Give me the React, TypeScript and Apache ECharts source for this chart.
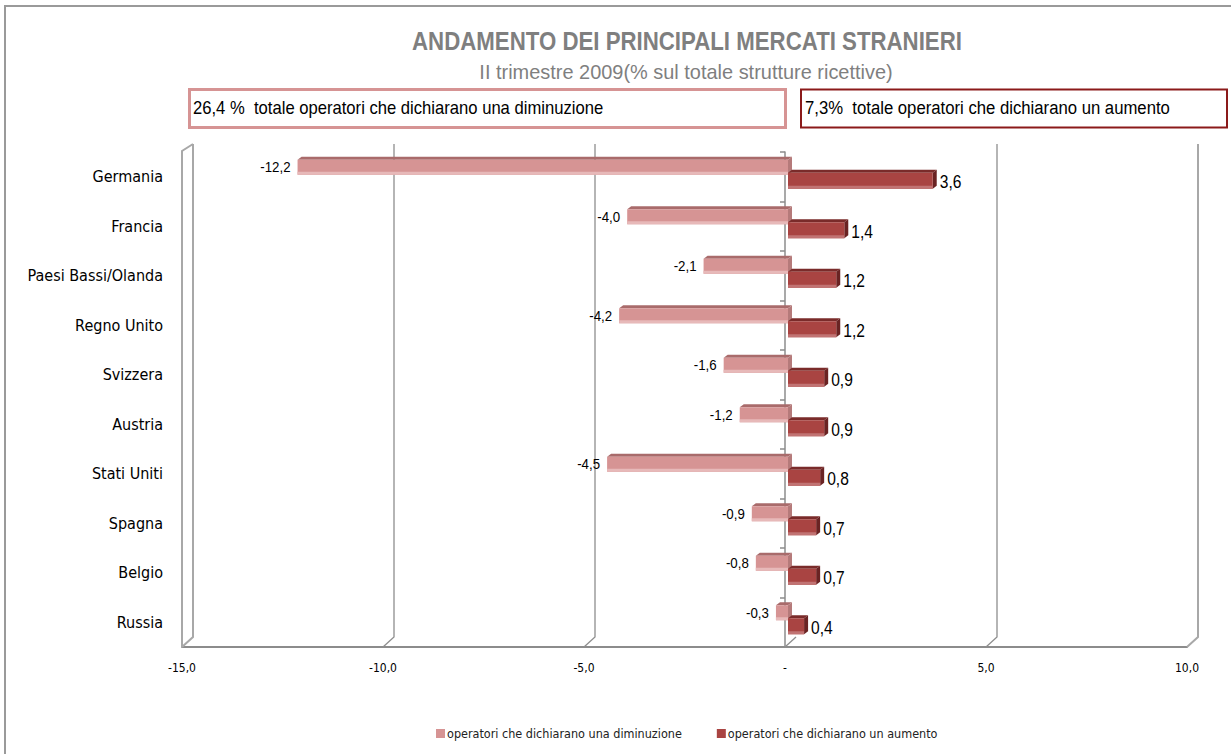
import React, { useEffect, useRef } from "react";
import * as echarts from "echarts";

const categories = [
  "Germania",
  "Francia",
  "Paesi Bassi/Olanda",
  "Regno Unito",
  "Svizzera",
  "Austria",
  "Stati Uniti",
  "Spagna",
  "Belgio",
  "Russia",
];
const decrease = [-12.2, -4.0, -2.1, -4.2, -1.6, -1.2, -4.5, -0.9, -0.8, -0.3];
const increase = [3.6, 1.4, 1.2, 1.2, 0.9, 0.9, 0.8, 0.7, 0.7, 0.4];
const xTicks = [-15, -10, -5, 0, 5, 10];
const seriesNames = [
  "operatori che dichiarano una diminuzione",
  "operatori che dichiarano un aumento",
];
const titleText = "ANDAMENTO DEI PRINCIPALI MERCATI STRANIERI";
const subtitleText = "II trimestre 2009(% sul totale strutture ricettive)";
const boxTexts = [
  "26,4 %  totale operatori che dichiarano una diminuzione",
  "7,3%  totale operatori che dichiarano un aumento",
];

const NARROW = "'Liberation Sans Narrow','Arial Narrow','DejaVu Sans Condensed',sans-serif";
const SANS = "'Liberation Sans',Arial,sans-serif";

const fmt = (v: number) => v.toFixed(1).replace(".", ",");

const COLORS = {
  dec: { front: "#D69494", top: "#A96B6B", side: "#B57A7A", low: "#E7B9B9", legend: "#D69494" },
  inc: { front: "#A94442", top: "#7A2B2A", side: "#6A2323", low: "#C17373", legend: "#A94442" },
};

function makeBarRenderer(kind: "dec" | "inc") {
  return (params: any, api: any) => {
    const idx = api.value(0);
    const v = api.value(1);
    const shift = 3;
    const p0 = api.coord([0, idx]);
    const p1 = api.coord([v, idx]);
    const c = p0[1];
    const x0 = p0[0] + shift;
    const x1 = p1[0] + shift;
    const xl = Math.min(x0, x1);
    const xr = Math.max(x0, x1);
    const t = kind === "dec" ? c - 17 : c - 4;
    const b = kind === "dec" ? c - 2 : c + 12;
    const dx = 4;
    const dy = -3;
    const col = COLORS[kind];
    const label =
      kind === "dec"
        ? {
            type: "text",
            x: xl - 7,
            y: c - 9,
            scaleX: 0.95,
            style: {
              text: fmt(v),
              align: "right",
              verticalAlign: "middle",
              font: `14px ${SANS}`,
              fill: "#000",
            },
          }
        : {
            type: "text",
            x: xr + dx + 3,
            y: c + 5,
            scaleX: 0.82,
            style: {
              text: fmt(v),
              align: "left",
              verticalAlign: "middle",
              font: `19px ${SANS}`,
              fill: "#000",
            },
          };
    return {
      type: "group",
      children: [
        {
          type: "polygon",
          shape: { points: [[xl, t], [xl + dx, t + dy], [xr + dx, t + dy], [xr, t]] },
          style: { fill: col.top },
        },
        {
          type: "polygon",
          shape: { points: [[xr, t], [xr + dx, t + dy], [xr + dx, b + dy], [xr, b]] },
          style: { fill: col.side },
        },
        { type: "rect", shape: { x: xl, y: t, width: xr - xl, height: b - t }, style: { fill: col.front } },
        { type: "rect", shape: { x: xl, y: b - 3, width: xr - xl, height: 3 }, style: { fill: col.low } },
        label,
      ],
    };
  };
}

function wallRenderer(params: any, api: any) {
  const v = api.value(0);
  const px = api.coord([v, 0])[0];
  const cs = params.coordSys;
  const top = cs.y;
  const bottom = cs.y + cs.height;
  const dx = 11;
  const dy = -10;
  const isEdge = v === xTicks[0] || v === xTicks[xTicks.length - 1];
  const children: any[] = [];
  if (v === 0) {
    children.push({
      type: "polyline",
      shape: { points: [[px, bottom], [px + dx, bottom + dy]] },
      style: { stroke: "#8E8E8E", lineWidth: 1.3, fill: "none" },
    });
  } else {
    children.push({
      type: "polyline",
      shape: { points: [[px + dx, top + dy + 2], [px + dx, bottom + dy], [px, bottom]] },
      style: { stroke: isEdge ? "#A8A8A8" : "#8E8E8E", lineWidth: isEdge ? 2 : 1.3, fill: "none" },
    });
  }
  if (v === xTicks[0]) {
    children.push({
      type: "polyline",
      shape: { points: [[px, bottom], [px, top - 1], [px + dx, top + dy + 2]] },
      style: { stroke: "#A8A8A8", lineWidth: 2, fill: "none" },
    });
  }
  return { type: "group", children };
}

export default function App() {
  const ref = useRef<HTMLDivElement>(null);
  useEffect(() => {
    if (!ref.current) return;
    const chart = echarts.init(ref.current, null, { renderer: "svg" });
    const option: any = {
      animation: false,
      backgroundColor: "#fff",
      grid: { left: 182, right: 44, top: 152, bottom: 107, containLabel: false },
      xAxis: {
        type: "value",
        min: -15,
        max: 10,
        interval: 5,
        axisLine: { show: true, onZero: false, lineStyle: { color: "#8C8C8C", width: 2 } },
        axisTick: { show: false },
        splitLine: { show: false },
        axisLabel: {
          margin: 15,
          fontSize: 12,
          fontFamily: NARROW,
          color: "#000",
          formatter: (v: number) => (v === 0 ? "-" : fmt(v)),
        },
      },
      yAxis: [
        {
          type: "category",
          data: categories,
          inverse: true,
          axisLine: { show: false, onZero: false },
          axisTick: { show: false },
          splitLine: { show: false },
          axisLabel: { margin: 19, fontSize: 16, fontFamily: NARROW, color: "#000" },
        },
        {
          type: "category",
          data: categories,
          inverse: true,
          position: "left",
          axisLine: { show: true, onZero: true, lineStyle: { color: "#8C8C8C", width: 1.5 } },
          axisTick: { show: true, length: 5, lineStyle: { color: "#8C8C8C", width: 1.5 } },
          axisLabel: { show: false },
          splitLine: { show: false },
        },
      ],
      legend: {
        left: 431,
        top: 722,
        itemWidth: 9,
        itemHeight: 9,
        itemGap: 35,
        icon: "rect",
        textStyle: { fontSize: 12.5, fontFamily: NARROW, color: "#222", padding: [0, 0, 0, -3] },
        data: seriesNames,
      },
      series: [
        {
          type: "custom",
          name: "wall",
          renderItem: wallRenderer,
          data: xTicks.map((v) => [v, 0]),
          encode: { x: 0, y: 1 },
          silent: true,
          z: 1,
        },
        {
          type: "custom",
          name: seriesNames[0],
          renderItem: makeBarRenderer("dec"),
          itemStyle: { color: COLORS.dec.legend },
          data: decrease.map((v, i) => [i, v]),
          encode: { y: 0, x: 1 },
          z: 3,
        },
        {
          type: "custom",
          name: seriesNames[1],
          renderItem: makeBarRenderer("inc"),
          itemStyle: { color: COLORS.inc.legend },
          data: increase.map((v, i) => [i, v]),
          encode: { y: 0, x: 1 },
          z: 4,
        },
      ],
      graphic: [
        {
          type: "polyline",
          shape: { points: [[5, 754], [5, 6], [1231, 6]] },
          style: { stroke: "#9A9A9A", lineWidth: 2, fill: "none" },
          silent: true,
        },
        {
          type: "text",
          x: 687,
          y: 42,
          scaleX: 0.89,
          style: {
            text: titleText,
            align: "center",
            verticalAlign: "middle",
            font: `bold 25px ${SANS}`,
            fill: "#7F7F7F",
          },
        },
        {
          type: "text",
          x: 686,
          y: 71,
          scaleX: 0.95,
          style: {
            text: subtitleText,
            align: "center",
            verticalAlign: "middle",
            font: `21px ${SANS}`,
            fill: "#7F7F7F",
          },
        },
        {
          type: "rect",
          shape: { x: 189.5, y: 89.5, width: 596, height: 38 },
          style: { stroke: "#D69494", lineWidth: 3, fill: "#fff" },
        },
        {
          type: "text",
          x: 193,
          y: 108,
          scaleX: 0.875,
          style: {
            text: boxTexts[0],
            align: "left",
            verticalAlign: "middle",
            font: `19px ${SANS}`,
            fill: "#000",
          },
        },
        {
          type: "rect",
          shape: { x: 801, y: 89.5, width: 426, height: 38 },
          style: { stroke: "#8B1A1A", lineWidth: 2, fill: "#fff" },
        },
        {
          type: "text",
          x: 805,
          y: 108,
          scaleX: 0.88,
          style: {
            text: boxTexts[1],
            align: "left",
            verticalAlign: "middle",
            font: `19px ${SANS}`,
            fill: "#000",
          },
        },
      ],
    };
    chart.setOption(option);
    return () => chart.dispose();
  }, []);
  return (
    <div
      ref={ref}
      style={{ position: "fixed", left: 0, top: 0, width: 1231, height: 754 }}
    />
  );
}
